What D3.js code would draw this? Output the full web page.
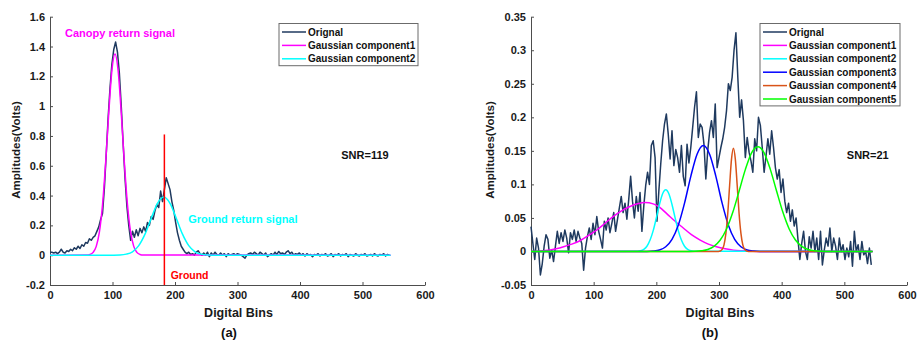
<!DOCTYPE html>
<html>
<head>
<meta charset="utf-8">
<script src="https://cdn.jsdelivr.net/npm/d3@7"></script>
<style>
  body { margin: 0; background: #fff; }
  text { font-family: "Liberation Sans", Arial, sans-serif; font-weight: bold; }
</style>
</head>
<body>
<svg id="chart" width="917" height="342"></svg>
<script>
// ---- data ----
const xTicks = [0, 100, 200, 300, 400, 500, 600];
const xTickLabels = ["0", "100", "200", "300", "400", "500", "600"];

const yTicksA = [-0.2, 0, 0.2, 0.4, 0.6, 0.8, 1, 1.2, 1.4, 1.6];
const yTickLabelsA = ["-0.2", "0", "0.2", "0.4", "0.6", "0.8", "1", "1.2", "1.4", "1.6"];
const yTicksB = [-0.05, 0, 0.05, 0.1, 0.15, 0.2, 0.25, 0.3, 0.35];
const yTickLabelsB = ["-0.05", "0", "0.05", "0.1", "0.15", "0.2", "0.25", "0.3", "0.35"];

// original waveform, one value every 3 bins (0..543)
const origBins = d3.range(0, 544, 3);
const origA = [
  0.02, 0.02, 0.015, 0.02, 0.01, 0.02, 0.04, 0.02, 0.015, 0.03,
  0.025, 0.04, 0.03, 0.05, 0.04, 0.06, 0.045, 0.07, 0.06, 0.085,
  0.08, 0.11, 0.10, 0.12, 0.13, 0.16, 0.19, 0.24, 0.28, 0.45,
  0.68, 0.92, 1.12, 1.28, 1.38, 1.43, 1.36, 1.22, 1.0, 0.75,
  0.52, 0.33, 0.2, 0.1, 0.16, 0.12, 0.17, 0.13, 0.18, 0.15,
  0.19, 0.16, 0.22, 0.2, 0.26, 0.24, 0.3, 0.34, 0.32, 0.43,
  0.36, 0.44, 0.52, 0.48, 0.44, 0.36, 0.30, 0.22, 0.15, 0.1,
  0.06, 0.04, 0.02, 0.01, 0.02, 0.005, 0.01, 0.0, 0.02, 0.03,
  0.01, 0.0, 0.015, 0.0, 0.02, -0.01, 0.015, 0.0, 0.02, 0.005,
  0.0, 0.015, 0.0, 0.01, -0.01, 0.01, 0.0, 0.005, 0.01, 0.0,
  0.01, 0.005, 0.0, -0.01, -0.02, 0.0, 0.01, 0.015, 0.005, 0.02,
  0.01, 0.0, 0.02, 0.01, 0.0, 0.015, -0.01, 0.0, 0.01, 0.0,
  0.02, 0.005, 0.025, 0.01, 0.015, 0.005, 0.02, 0.03, 0.01, 0.02,
  0.0, 0.01, 0.005, 0.015, 0.0, 0.01, -0.005, 0.01, 0.0, 0.005,
  -0.01, 0.005, 0.0, 0.01, -0.005, 0.005, 0.0, 0.01, -0.005, 0.0,
  0.01, -0.01, 0.005, 0.0, 0.01, -0.005, 0.005, 0.0, 0.01, -0.01,
  0.005, 0.0, -0.005, 0.01, 0.0, -0.005, 0.005, 0.0, 0.01, -0.005,
  0.0, 0.005, -0.005, 0.01, 0.0, -0.005, 0.005, 0.0, 0.01, -0.005,
  0.005, 0.0
];
const origB = [
  0.037, 0.012, -0.012, 0.02, 0.005, -0.035, -0.018, 0.008, 0.025, 0.018,
  -0.01, 0.002, -0.015, 0.008, 0.03, 0.012, 0.028, 0.015, 0.032, 0.02,
  -0.002, 0.028, 0.018, 0.032, 0.015, 0.03, 0.02, 0.012, -0.028, 0.005,
  0.022, 0.035, 0.018, 0.042, 0.025, 0.052, 0.03, 0.018, 0.005, 0.045,
  0.032, 0.05, 0.028, 0.042, 0.058, 0.03, 0.048, 0.065, 0.082, 0.058,
  0.072, 0.048, 0.078, 0.112, 0.075, 0.05, 0.082, 0.06, 0.088, 0.03,
  0.068, 0.098, 0.118, 0.1, 0.158, 0.165, 0.14, 0.045, 0.09, 0.13,
  0.165, 0.19, 0.205, 0.175, 0.138, 0.18, 0.128, 0.152, 0.14, 0.118,
  0.158, 0.112, 0.098, 0.16, 0.132, 0.155, 0.185, 0.215, 0.238, 0.17,
  0.19, 0.185, 0.16, 0.108, 0.15, 0.178, 0.195, 0.17, 0.22, 0.125,
  0.14, 0.155, 0.168, 0.185, 0.21, 0.25, 0.24, 0.26, 0.3, 0.326,
  0.26, 0.2, 0.226, 0.195, 0.14, 0.17, 0.148, 0.135, 0.118, 0.168,
  0.15, 0.2, 0.188, 0.155, 0.118, 0.142, 0.168, 0.145, 0.18, 0.155,
  0.125, 0.108, 0.122, 0.088, 0.108, 0.075, 0.058, 0.072, 0.045, 0.062,
  0.038, 0.05, 0.018, -0.012, 0.012, 0.03, 0.0, -0.012, 0.022, 0.005,
  0.03, 0.0, 0.02, -0.012, 0.03, -0.02, 0.002, 0.02, 0.008, 0.035,
  0.0, 0.02, 0.008, -0.012, 0.02, 0.0, 0.01, -0.012, 0.005, -0.008,
  0.015, -0.022, 0.03, 0.0, 0.01, -0.012, 0.015, -0.005, 0.0, -0.018,
  0.005, -0.02
];

// fitted gaussian components, (bin, amplitude)
const a1Bins = [0, 59, 64, 69, 74, 79, 84, 89, 94, 99, 104, 109, 114, 119, 124, 129, 134, 139, 144, 149, 545];
const a1Amp = [0, 0.001, 0.005, 0.019, 0.059, 0.154, 0.337, 0.618, 0.954, 1.238, 1.35, 1.238, 0.954, 0.618, 0.337, 0.154, 0.059, 0.019, 0.005, 0.001, 0];
const a2Bins = [0, 102, 112, 122, 132, 142, 152, 162, 172, 182, 192, 202, 212, 222, 232, 242, 252, 262, 545];
const a2Amp = [0, 0.0004, 0.0015, 0.007, 0.023, 0.064, 0.141, 0.248, 0.348, 0.39, 0.348, 0.248, 0.141, 0.064, 0.023, 0.007, 0.0015, 0.0004, 0];

const b1Bins = [0, 20, 40, 52, 65, 78, 92, 105, 118, 131, 145, 158, 170, 182, 195, 205, 217, 230, 243, 256, 270, 283, 296, 310, 323, 340, 360, 545];
const b1Amp = [0, 0.001, 0.004, 0.007, 0.011, 0.016, 0.024, 0.032, 0.042, 0.052, 0.061, 0.067, 0.071, 0.073, 0.071, 0.066, 0.056, 0.045, 0.035, 0.025, 0.017, 0.011, 0.007, 0.004, 0.002, 0.001, 0, 0];
const b2Bins = [0, 170, 175, 180, 185, 190, 195, 200, 205, 210, 215, 220, 225, 230, 235, 240, 245, 250, 255, 260, 545];
const b2Amp = [0, 0.0004, 0.0011, 0.0032, 0.0078, 0.017, 0.031, 0.05, 0.07, 0.086, 0.092, 0.086, 0.07, 0.05, 0.031, 0.017, 0.0078, 0.0032, 0.0011, 0.0004, 0];
const b3Bins = [0, 185, 195, 205, 215, 225, 235, 245, 255, 265, 275, 285, 295, 305, 315, 325, 335, 345, 355, 365, 545];
const b3Amp = [0, 0.0001, 0.0006, 0.0022, 0.007, 0.018, 0.039, 0.072, 0.112, 0.145, 0.158, 0.145, 0.112, 0.072, 0.039, 0.018, 0.007, 0.0022, 0.0006, 0.0001, 0];
const b4Bins = [0, 299, 302, 305, 308, 311, 314, 317, 320, 323, 326, 329, 332, 335, 338, 341, 344, 347, 545];
const b4Amp = [0, 0.0001, 0.0007, 0.003, 0.0099, 0.027, 0.057, 0.099, 0.138, 0.154, 0.138, 0.099, 0.057, 0.027, 0.0099, 0.003, 0.0007, 0.0001, 0];
const b5Bins = [0, 252, 262, 272, 282, 292, 302, 312, 322, 332, 342, 352, 362, 372, 382, 392, 402, 412, 422, 432, 442, 452, 462, 472, 545];
const b5Amp = [0, 0.0001, 0.0003, 0.0011, 0.003, 0.0077, 0.017, 0.0335, 0.0583, 0.0897, 0.122, 0.147, 0.156, 0.147, 0.122, 0.0897, 0.0583, 0.0335, 0.017, 0.0077, 0.003, 0.0011, 0.0003, 0.0001, 0];

const legendA = ["Orignal", "Gaussian component1", "Gaussian component2"];
const legendB = ["Orignal", "Gaussian component1", "Gaussian component2", "Gaussian component3", "Gaussian component4", "Gaussian component5"];
const colOrig = "#1f3a5f";
const colorsA = [colOrig, "#ff00ff", "#00ffff"];
const colorsB = [colOrig, "#ff00ff", "#00ffff", "#0000ff", "#d95319", "#00ff00"];

const groundBin = 183;

// ---- drawing ----
const svg = d3.select("#chart");
svg.append("rect").attr("width", 917).attr("height", 342).attr("fill", "#fff");

function drawPanel(p) {
  const g = svg.append("g");
  const x = d3.scaleLinear().domain([0, 600]).range([p.left, p.right]);
  const y = d3.scaleLinear().domain(p.yDomain).range([285, 16.7]);

  const xAxis = g.append("g")
    .attr("transform", "translate(0,285)")
    .call(d3.axisBottom(x).tickValues(xTicks)
      .tickFormat((d, i) => xTickLabels[i])
      .tickSizeInner(-3).tickSizeOuter(0).tickPadding(6));
  const yAxis = g.append("g")
    .attr("transform", "translate(" + p.left + ",0)")
    .call(d3.axisLeft(y).tickValues(p.yTicks)
      .tickFormat((d, i) => p.yLabels[i])
      .tickSizeInner(-3).tickSizeOuter(0).tickPadding(5));
  [xAxis, yAxis].forEach(a => {
    a.selectAll("path, line").attr("stroke", "#4d4d4d");
    a.selectAll("text").attr("font-size", 11).attr("fill", "#1a1a1a")
      .attr("font-family", null);
    a.attr("font-family", null);
  });

  const line = d3.line().x(d => x(d[0])).y(d => y(d[1]));
  const smooth = d3.line().x(d => x(d[0])).y(d => y(d[1])).curve(d3.curveMonotoneX);

  p.series.forEach((s, i) => {
    g.append("path")
      .datum(d3.zip(s.bins, s.vals))
      .attr("fill", "none")
      .attr("stroke", p.colors[i])
      .attr("stroke-width", 1.5)
      .attr("stroke-linejoin", "round")
      .attr("d", i === 0 ? line : smooth);
  });

  // axis titles
  g.append("text")
    .attr("x", (p.left + p.right) / 2 + 1).attr("y", 317)
    .attr("text-anchor", "middle").attr("font-size", 12.5).attr("fill", "#1a1a1a")
    .text("Digital Bins");
  g.append("text")
    .attr("transform", "translate(" + p.ylabX + ",150) rotate(-90)")
    .attr("text-anchor", "middle").attr("font-size", 11.5).attr("fill", "#1a1a1a")
    .text("Amplitudes(Volts)");
  g.append("text")
    .attr("x", p.capX).attr("y", 337)
    .attr("text-anchor", "middle").attr("font-size", 13).attr("fill", "#111")
    .text(p.caption);

  // legend
  const lg = g.append("g");
  const rowH = 13.4;
  lg.append("rect")
    .attr("x", p.legX).attr("y", 23.5)
    .attr("width", p.legW).attr("height", p.names.length * rowH + 2)
    .attr("fill", "#fff").attr("stroke", "#6b6b6b").attr("stroke-width", 1);
  p.names.forEach((n, i) => {
    const cy = 32 + i * rowH;
    lg.append("line")
      .attr("x1", p.legX + 3).attr("x2", p.legX + 27)
      .attr("y1", cy).attr("y2", cy)
      .attr("stroke", p.colors[i]).attr("stroke-width", 1.5);
    lg.append("text")
      .attr("x", p.legX + 29).attr("y", cy + 3.6)
      .attr("font-size", 10).attr("fill", "#111")
      .text(n);
  });

  return { g, x, y };
}

const A = drawPanel({
  left: 50, right: 425,
  yDomain: [-0.2, 1.6], yTicks: yTicksA, yLabels: yTickLabelsA,
  series: [
    { bins: origBins, vals: origA },
    { bins: a1Bins, vals: a1Amp },
    { bins: a2Bins, vals: a2Amp }
  ],
  colors: colorsA, names: legendA,
  legX: 279, legW: 139, ylabX: 20, capX: 229, caption: "(a)"
});

// ground marker and annotations, panel (a)
A.g.append("line")
  .attr("x1", A.x(groundBin)).attr("x2", A.x(groundBin))
  .attr("y1", A.y(0.81)).attr("y2", A.y(-0.2))
  .attr("stroke", "#ff0000").attr("stroke-width", 1.5);
A.g.append("text").attr("x", A.x(24)).attr("y", A.y(1.466))
  .attr("font-size", 11).attr("fill", "#ff00ff").text("Canopy return signal");
A.g.append("text").attr("x", A.x(221)).attr("y", A.y(0.218))
  .attr("font-size", 11).attr("fill", "#00ffff").text("Ground return signal");
A.g.append("text").attr("x", A.x(193)).attr("y", A.y(-0.16))
  .attr("font-size", 10.5).attr("fill", "#ff0000").text("Ground");
A.g.append("text").attr("x", A.x(466)).attr("y", A.y(0.644))
  .attr("font-size", 11).attr("fill", "#111").text("SNR=119");

const B = drawPanel({
  left: 531, right: 907,
  yDomain: [-0.05, 0.35], yTicks: yTicksB, yLabels: yTickLabelsB,
  series: [
    { bins: origBins, vals: origB },
    { bins: b1Bins, vals: b1Amp },
    { bins: b2Bins, vals: b2Amp },
    { bins: b3Bins, vals: b3Amp },
    { bins: b4Bins, vals: b4Amp },
    { bins: b5Bins, vals: b5Amp }
  ],
  colors: colorsB, names: legendB,
  legX: 760, legW: 140, ylabX: 494, capX: 710, caption: "(b)"
});
B.g.append("text").attr("x", B.x(504)).attr("y", B.y(0.138))
  .attr("font-size", 11).attr("fill", "#111").text("SNR=21");
</script>
</body>
</html>
